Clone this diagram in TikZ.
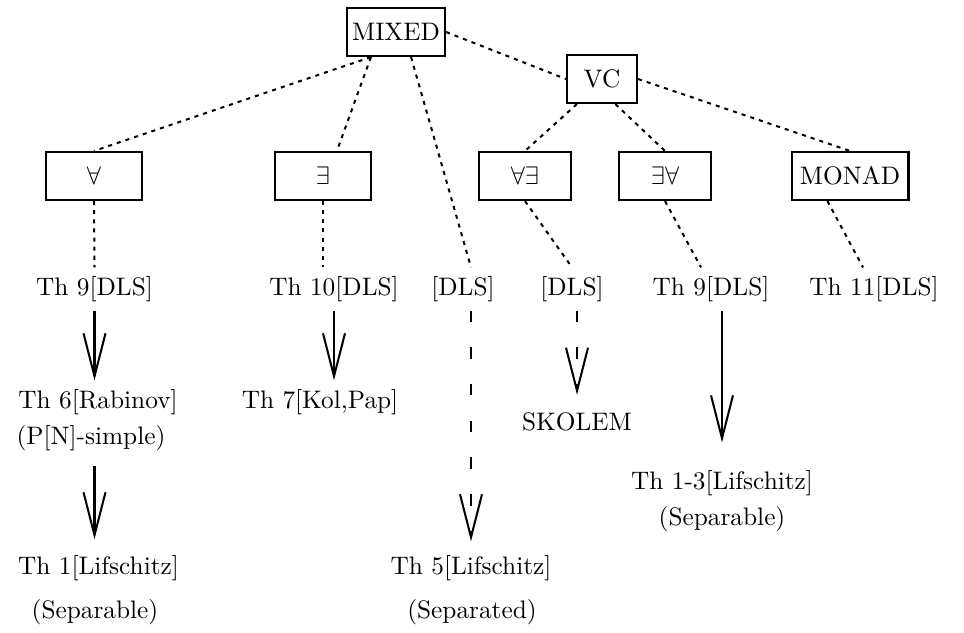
\documentclass[tikz,border=0pt]{standalone}
\usepackage{amsmath}
\usepackage{amsfonts}
\usetikzlibrary{positioning}
\usetikzlibrary{calc}
\usetikzlibrary{arrows.meta}

\begin{document}
\begin{tikzpicture}[
        x=0.01389cm, y=-0.01389cm,
        box/.style={draw, thick, align=center, minimum height=19pt, inner sep=2pt},
        thm/.style={align=center, text height=7.5pt, text depth=2.5pt},
        link/.style={thick, dash pattern=on 1.6pt off 2pt},
        arrow/.style={thick, -{Straight Barb[length=17pt, width=8.7pt]}},
        dasharrow/.style={arrow, dash pattern=on 4.5pt off 10pt}
    ]
        \useasboundingbox (0,0) rectangle (964,632);

        \node[box, minimum width=37.9pt] (mixed) at (396,32) {MIXED};
        \node[box, minimum width=27.7pt] (vc) at (602,79) {VC};
        \node[box, minimum width=38.3pt] (all) at (94,176) {$\forall$};
        \node[box, minimum width=38.3pt] (ex) at (323,176) {$\exists$};
        \node[box, minimum width=36.3pt] (allex) at (525,176) {$\forall\exists$};
        \node[box, minimum width=36.7pt] (exall) at (665,176) {$\exists\forall$};
        \node[box, minimum width=46.2pt] (monad) at (850,176) {MONAD};

        \node[thm] (t9a) at (94.5,289) {Th 9[DLS]};
        \node[thm] (t10) at (334,289) {Th 10[DLS]};
        \node[thm] (dls1) at (463,289) {[DLS]};
        \node[thm] (dls2) at (572,289) {[DLS]};
        \node[thm] (t9b) at (711,289) {Th 9[DLS]};
        \node[thm] (t11) at (874,289) {Th 11[DLS]};
        \node[thm] (rab) at (98,402) {Th 6[Rabinov]};
        \node[thm] (pns) at (91,438) {(P[N]-simple)};
        \node[thm] (kol) at (320,402) {Th 7[Kol,Pap]};
        \node[thm] (sko) at (577,424) {SKOLEM};
        \node[thm] (lif13) at (722,483) {Th 1-3[Lifschitz]};
        \node[thm] (sep2) at (722,519) {(Separable)};
        \node[thm] (lif1) at (98.5,568) {Th 1[Lifschitz]};
        \node[thm] (sep1) at (95,612) {(Separable)};
        \node[thm] (lif5) at (471,568) {Th 5[Lifschitz]};
        \node[thm] (sepd) at (472,612) {(Separated)};

        \draw[link] (mixed.east) -- (vc.west);
        \draw[link] (mixed.-135) -- (all.north);
        \draw[link] (mixed.-135) -- (ex.61);
        \draw[link] (mixed.-59) -- (lif5.north |- dls1.north);
        \draw[link] (vc.-135) -- (allex.north);
        \draw[link] (vc.-62) -- (exall.north);
        \draw[link] (vc.east) -- (monad.north);
        \draw[link] (all.south) -- (t9a.north);
        \draw[link] (ex.south) -- (ex.south |- t10.north);
        \draw[link] (allex.south) -- (dls2.north);
        \draw[link] (exall.south) -- ($(t9b.north)+(-10,0)$);
        \draw[link] (monad.-132) -- ($(t11.north)+(-11,0)$);

        \draw[arrow] (t9a.south) -- (t9a.south |- rab.north);
        \draw[arrow, shorten <=2.4pt, shorten >=2.8pt] (t9a.south |- pns.south) -- (t9a.south |- lif1.north);
        \draw[arrow] (t10.south) -- (t10.south |- kol.north);
        \draw[dasharrow, shorten >=2pt] (lif5.north |- dls1.south) -- (lif5.north);
        \draw[dasharrow, shorten >=3pt] (sko.north |- dls2.south) -- (sko.north);
        \draw[arrow, shorten >=7.5pt] (lif13.north |- t9b.south) -- (lif13.north);
    \end{tikzpicture}
\end{document}
